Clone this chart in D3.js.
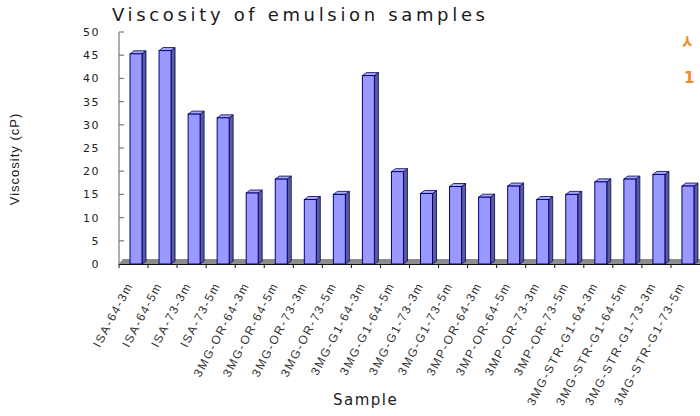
<!DOCTYPE html>
<html>
<head>
<meta charset="utf-8">
<script src="https://cdn.jsdelivr.net/npm/d3@7"></script>
<style>
  body { margin: 0; background: #fff; }
  svg { display: block; }
</style>
</head>
<body>
<svg id="chart" width="700" height="416"></svg>
<script>
// sample names along the x axis
const categories = ['ISA-64-3m', 'ISA-64-5m', 'ISA-73-3m', 'ISA-73-5m',
  '3MG-OR-64-3m', '3MG-OR-64-5m', '3MG-OR-73-3m', '3MG-OR-73-5m',
  '3MG-G1-64-3m', '3MG-G1-64-5m', '3MG-G1-73-3m', '3MG-G1-73-5m',
  '3MP-OR-64-3m', '3MP-OR-64-5m', '3MP-OR-73-3m', '3MP-OR-73-5m',
  '3MG-STR-G1-64-3m', '3MG-STR-G1-64-5m', '3MG-STR-G1-73-3m', '3MG-STR-G1-73-5m'];
// viscosity in cP
const viscosity = [45.3, 46.0, 32.3, 31.5, 15.3, 18.3, 13.9, 15.0, 40.6, 19.9,
  15.2, 16.7, 14.4, 16.8, 13.9, 15.0, 17.7, 18.3, 19.3, 16.8];
const yTicks = [0, 5, 10, 15, 20, 25, 30, 35, 40, 45, 50];

const svg = d3.select('#chart');
const x = d3.scaleBand().domain(categories).range([119, 700]).padding(0);
const y = d3.scaleLinear().domain([0, 50]).range([264, 32]);
const barW = 12, barOff = 11, depthX = 4, depthY = 3;

// title
svg.append('text').text('Viscosity  of  emulsion  samples')
  .attr('x', 112).attr('y', 21)
  .attr('textLength', 373).attr('lengthAdjust', 'spacing')
  .style('font-family', 'DejaVu Sans').style('font-size', '18px').attr('fill', '#1a1a1a');

// floor
const x0 = x.range()[0], x1 = x.range()[1];
svg.append('polygon')
  .attr('points', [[x0, y(0)], [x1, y(0)], [x1 + depthX, y(0) - depthY - 2], [x0 + depthX, y(0) - depthY - 2]].map(p => p.join(',')).join(' '))
  .attr('fill', '#8c8c8c');

// y axis line + ticks
svg.append('line').attr('x1', x0).attr('x2', x0).attr('y1', y(0)).attr('y2', y(50))
  .attr('stroke', '#7a7a7a').attr('stroke-width', 1.2);
svg.selectAll('.ytick').data(yTicks).enter().append('line')
  .attr('x1', x0).attr('x2', x0 + 5).attr('y1', d => y(d)).attr('y2', d => y(d))
  .attr('stroke', '#7a7a7a').attr('stroke-width', 1.2);
svg.selectAll('.ylab').data(yTicks).enter().append('text')
  .text(d => d)
  .attr('x', 100).attr('y', d => y(d) + 4)
  .attr('text-anchor', 'end')
  .style('font-family', 'DejaVu Sans').style('font-size', '11px').style('letter-spacing', '1.5px')
  .attr('fill', '#222');

// bars
const bars = svg.selectAll('.bar').data(categories).enter().append('g');
bars.append('polygon')
  .attr('points', (d, i) => {
    const bx = x(d) + barOff + barW, t = y(viscosity[i]), b = y(0);
    return [[bx, t], [bx + depthX, t - depthY], [bx + depthX, b - depthY], [bx, b]].map(p => p.join(',')).join(' ');
  })
  .attr('fill', '#5c5c94').attr('stroke', '#000060').attr('stroke-width', 0.8);
bars.append('polygon')
  .attr('points', (d, i) => {
    const bx = x(d) + barOff, t = y(viscosity[i]);
    return [[bx, t], [bx + depthX, t - depthY], [bx + barW + depthX, t - depthY], [bx + barW, t]].map(p => p.join(',')).join(' ');
  })
  .attr('fill', '#aaaaf0').attr('stroke', '#000060').attr('stroke-width', 0.8);
bars.append('rect')
  .attr('x', d => x(d) + barOff).attr('width', barW)
  .attr('y', (d, i) => y(viscosity[i])).attr('height', (d, i) => y(0) - y(viscosity[i]))
  .attr('fill', '#9999ff').attr('stroke', '#000080').attr('stroke-width', 1);

// x axis line + ticks
svg.append('line').attr('x1', x0).attr('x2', x1).attr('y1', y(0) + 0.5).attr('y2', y(0) + 0.5)
  .attr('stroke', '#111').attr('stroke-width', 1.2);
svg.selectAll('.xtick').data(categories).enter().append('line')
  .attr('x1', d => x(d)).attr('x2', d => x(d)).attr('y1', y(0)).attr('y2', y(0) + 4)
  .attr('stroke', '#111').attr('stroke-width', 1);

// x tick labels
svg.selectAll('.xlab').data(categories).enter().append('text')
  .text(d => d)
  .attr('transform', d => 'translate(' + (x(d) + x.bandwidth() / 2) + ',' + 285 + ') rotate(-62)')
  .attr('text-anchor', 'end')
  .style('font-family', 'Liberation Sans').style('font-size', '12px').style('letter-spacing', '1.6px')
  .attr('fill', '#333');

// axis titles
svg.append('text').text('Sample')
  .attr('x', 333).attr('y', 405)
  .style('font-family', 'DejaVu Sans').style('font-size', '15px').style('letter-spacing', '1.5px')
  .attr('fill', '#222');
svg.append('text').text('Viscosity (cP)')
  .attr('transform', 'translate(19,159) rotate(-90)')
  .attr('text-anchor', 'middle')
  .style('font-family', 'Liberation Sans').style('font-size', '13px').style('letter-spacing', '1px')
  .attr('fill', '#222');

// orange note, cut off at the right edge as in the source image
svg.append('clipPath').attr('id', 'noteclip')
  .append('rect').attr('x', 600).attr('y', 0).attr('width', 92).attr('height', 120);
const note = svg.append('g').attr('clip-path', 'url(#noteclip)');
note.append('text').text('시').attr('x', 682).attr('y', 48)
  .style('font-family', 'Noto Sans CJK KR').style('font-size', '16px').style('font-weight', 'bold')
  .attr('fill', '#f08a2c');
svg.append('text').text('1').attr('x', 684).attr('y', 83)
  .style('font-family', 'DejaVu Sans').style('font-size', '15px').style('font-weight', 'bold')
  .attr('fill', '#f08a2c');
</script>
</body>
</html>
